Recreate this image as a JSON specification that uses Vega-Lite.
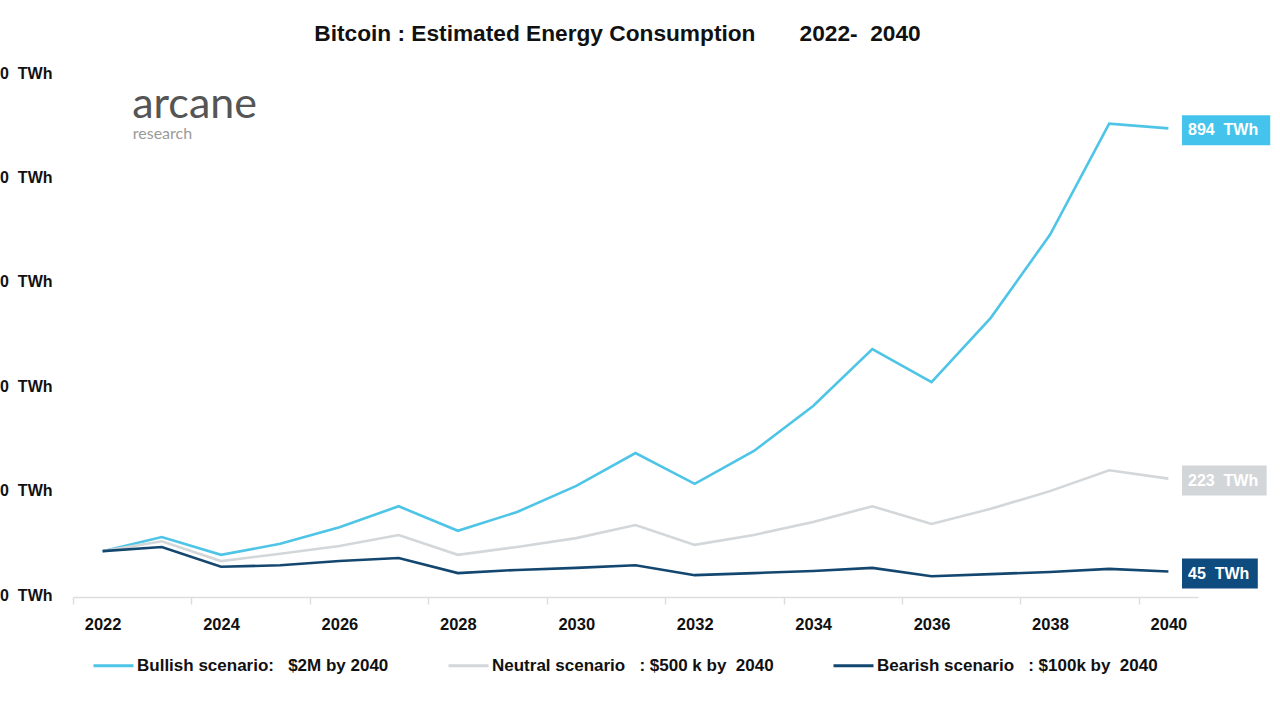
{
  "$schema": "https://vega.github.io/schema/vega-lite/v6.json",
  "width": 1125,
  "height": 522,
  "autosize": {"type": "none"},
  "padding": {"left": 73, "top": 73, "right": 82, "bottom": 125},
  "background": "white",
  "config": {
    "font": "Liberation Sans",
    "view": {"stroke": null}
  },
  "title": {
    "text": "Bitcoin : Estimated Energy Consumption\u00a0\u00a0\u00a0\u00a0\u00a0\u00a0\u00a02022-\u00a0\u00a02040",
    "font": "Liberation Sans",
    "fontSize": 22.7,
    "fontWeight": "bold",
    "color": "#111111",
    "anchor": "middle",
    "frame": "group",
    "dx": -18,
    "offset": 19
  },
  "datasets": {
    "energy": [
      {"year": 2022, "scenario": "Bullish scenario:\u00a0\u00a0 $2M by 2040", "value": 84},
      {"year": 2023, "scenario": "Bullish scenario:\u00a0\u00a0 $2M by 2040", "value": 111},
      {"year": 2024, "scenario": "Bullish scenario:\u00a0\u00a0 $2M by 2040", "value": 77},
      {"year": 2025, "scenario": "Bullish scenario:\u00a0\u00a0 $2M by 2040", "value": 98},
      {"year": 2026, "scenario": "Bullish scenario:\u00a0\u00a0 $2M by 2040", "value": 130},
      {"year": 2027, "scenario": "Bullish scenario:\u00a0\u00a0 $2M by 2040", "value": 170},
      {"year": 2028, "scenario": "Bullish scenario:\u00a0\u00a0 $2M by 2040", "value": 123},
      {"year": 2029, "scenario": "Bullish scenario:\u00a0\u00a0 $2M by 2040", "value": 159},
      {"year": 2030, "scenario": "Bullish scenario:\u00a0\u00a0 $2M by 2040", "value": 209},
      {"year": 2031, "scenario": "Bullish scenario:\u00a0\u00a0 $2M by 2040", "value": 272},
      {"year": 2032, "scenario": "Bullish scenario:\u00a0\u00a0 $2M by 2040", "value": 213},
      {"year": 2033, "scenario": "Bullish scenario:\u00a0\u00a0 $2M by 2040", "value": 276},
      {"year": 2034, "scenario": "Bullish scenario:\u00a0\u00a0 $2M by 2040", "value": 362},
      {"year": 2035, "scenario": "Bullish scenario:\u00a0\u00a0 $2M by 2040", "value": 471},
      {"year": 2036, "scenario": "Bullish scenario:\u00a0\u00a0 $2M by 2040", "value": 408},
      {"year": 2037, "scenario": "Bullish scenario:\u00a0\u00a0 $2M by 2040", "value": 531},
      {"year": 2038, "scenario": "Bullish scenario:\u00a0\u00a0 $2M by 2040", "value": 690},
      {"year": 2039, "scenario": "Bullish scenario:\u00a0\u00a0 $2M by 2040", "value": 903},
      {"year": 2040, "scenario": "Bullish scenario:\u00a0\u00a0 $2M by 2040", "value": 894},
      {"year": 2022, "scenario": "Neutral scenario\u00a0\u00a0 : $500 k by\u00a0 2040", "value": 84},
      {"year": 2023, "scenario": "Neutral scenario\u00a0\u00a0 : $500 k by\u00a0 2040", "value": 103},
      {"year": 2024, "scenario": "Neutral scenario\u00a0\u00a0 : $500 k by\u00a0 2040", "value": 65},
      {"year": 2025, "scenario": "Neutral scenario\u00a0\u00a0 : $500 k by\u00a0 2040", "value": 79},
      {"year": 2026, "scenario": "Neutral scenario\u00a0\u00a0 : $500 k by\u00a0 2040", "value": 94},
      {"year": 2027, "scenario": "Neutral scenario\u00a0\u00a0 : $500 k by\u00a0 2040", "value": 115},
      {"year": 2028, "scenario": "Neutral scenario\u00a0\u00a0 : $500 k by\u00a0 2040", "value": 77},
      {"year": 2029, "scenario": "Neutral scenario\u00a0\u00a0 : $500 k by\u00a0 2040", "value": 92},
      {"year": 2030, "scenario": "Neutral scenario\u00a0\u00a0 : $500 k by\u00a0 2040", "value": 109},
      {"year": 2031, "scenario": "Neutral scenario\u00a0\u00a0 : $500 k by\u00a0 2040", "value": 134},
      {"year": 2032, "scenario": "Neutral scenario\u00a0\u00a0 : $500 k by\u00a0 2040", "value": 96},
      {"year": 2033, "scenario": "Neutral scenario\u00a0\u00a0 : $500 k by\u00a0 2040", "value": 115},
      {"year": 2034, "scenario": "Neutral scenario\u00a0\u00a0 : $500 k by\u00a0 2040", "value": 140},
      {"year": 2035, "scenario": "Neutral scenario\u00a0\u00a0 : $500 k by\u00a0 2040", "value": 170},
      {"year": 2036, "scenario": "Neutral scenario\u00a0\u00a0 : $500 k by\u00a0 2040", "value": 136},
      {"year": 2037, "scenario": "Neutral scenario\u00a0\u00a0 : $500 k by\u00a0 2040", "value": 165},
      {"year": 2038, "scenario": "Neutral scenario\u00a0\u00a0 : $500 k by\u00a0 2040", "value": 199},
      {"year": 2039, "scenario": "Neutral scenario\u00a0\u00a0 : $500 k by\u00a0 2040", "value": 239},
      {"year": 2040, "scenario": "Neutral scenario\u00a0\u00a0 : $500 k by\u00a0 2040", "value": 223},
      {"year": 2022, "scenario": "Bearish scenario\u00a0\u00a0 : $100k by\u00a0 2040", "value": 84},
      {"year": 2023, "scenario": "Bearish scenario\u00a0\u00a0 : $100k by\u00a0 2040", "value": 92},
      {"year": 2024, "scenario": "Bearish scenario\u00a0\u00a0 : $100k by\u00a0 2040", "value": 54},
      {"year": 2025, "scenario": "Bearish scenario\u00a0\u00a0 : $100k by\u00a0 2040", "value": 57},
      {"year": 2026, "scenario": "Bearish scenario\u00a0\u00a0 : $100k by\u00a0 2040", "value": 65},
      {"year": 2027, "scenario": "Bearish scenario\u00a0\u00a0 : $100k by\u00a0 2040", "value": 71},
      {"year": 2028, "scenario": "Bearish scenario\u00a0\u00a0 : $100k by\u00a0 2040", "value": 42},
      {"year": 2029, "scenario": "Bearish scenario\u00a0\u00a0 : $100k by\u00a0 2040", "value": 48},
      {"year": 2030, "scenario": "Bearish scenario\u00a0\u00a0 : $100k by\u00a0 2040", "value": 52},
      {"year": 2031, "scenario": "Bearish scenario\u00a0\u00a0 : $100k by\u00a0 2040", "value": 57},
      {"year": 2032, "scenario": "Bearish scenario\u00a0\u00a0 : $100k by\u00a0 2040", "value": 38},
      {"year": 2033, "scenario": "Bearish scenario\u00a0\u00a0 : $100k by\u00a0 2040", "value": 42},
      {"year": 2034, "scenario": "Bearish scenario\u00a0\u00a0 : $100k by\u00a0 2040", "value": 46},
      {"year": 2035, "scenario": "Bearish scenario\u00a0\u00a0 : $100k by\u00a0 2040", "value": 52},
      {"year": 2036, "scenario": "Bearish scenario\u00a0\u00a0 : $100k by\u00a0 2040", "value": 36},
      {"year": 2037, "scenario": "Bearish scenario\u00a0\u00a0 : $100k by\u00a0 2040", "value": 40},
      {"year": 2038, "scenario": "Bearish scenario\u00a0\u00a0 : $100k by\u00a0 2040", "value": 44},
      {"year": 2039, "scenario": "Bearish scenario\u00a0\u00a0 : $100k by\u00a0 2040", "value": 50},
      {"year": 2040, "scenario": "Bearish scenario\u00a0\u00a0 : $100k by\u00a0 2040", "value": 45}
    ],
    "endlabels": [
      {"key": "bull", "value": 894, "label": "894\u00a0\u00a0TWh"},
      {"key": "neutral", "value": 223, "label": "223\u00a0\u00a0TWh"},
      {"key": "bear", "value": 45, "label": "45\u00a0\u00a0TWh"}
    ]
  },
  "layer": [
    {
      "data": {"name": "energy"},
      "mark": {"type": "line", "strokeWidth": 2.6, "strokeJoin": "miter"},
      "encoding": {
        "x": {
          "field": "year",
          "type": "quantitative",
          "scale": {"domain": [2021.5, 2040.5], "nice": false, "zero": false},
          "axis": {
            "title": null,
            "values": [2022, 2024, 2026, 2028, 2030, 2032, 2034, 2036, 2038, 2040],
            "format": "d",
            "grid": false,
            "domainColor": "#dddddd",
            "domainWidth": 1.5,
            "tickColor": "#dddddd",
            "tickWidth": 1.5,
            "tickSize": 7,
            "tickOffset": -29.6,
            "labelOffset": 29.6,
            "labelFont": "Liberation Sans",
            "labelFontWeight": "bold",
            "labelFontSize": 16.5,
            "labelColor": "#111111",
            "labelPadding": 12,
            "labelFlush": false,
            "offset": 2
          }
        },
        "y": {
          "field": "value",
          "type": "quantitative",
          "scale": {"domain": [0, 1000], "nice": false},
          "axis": {
            "title": null,
            "values": [0, 200, 400, 600, 800, 1000],
            "labelExpr": "datum.value + '\u00a0\u00a0TWh'",
            "grid": false,
            "domain": false,
            "ticks": false,
            "labelFont": "Liberation Sans",
            "labelFontWeight": "bold",
            "labelFontSize": 16,
            "labelColor": "#111111",
            "labelPadding": 21
          }
        },
        "color": {
          "field": "scenario",
          "type": "nominal",
          "scale": {
            "domain": [
              "Bullish scenario:\u00a0\u00a0 $2M by 2040",
              "Neutral scenario\u00a0\u00a0 : $500 k by\u00a0 2040",
              "Bearish scenario\u00a0\u00a0 : $100k by\u00a0 2040"
            ],
            "range": ["#4EC5E6", "#D3D7D9", "#144770"]
          },
          "legend": {
            "title": null,
            "orient": "none",
            "legendX": 19,
            "legendY": 571,
            "direction": "horizontal",
            "symbolType": "stroke",
            "symbolSize": 1600,
            "symbolStrokeWidth": 3,
            "labelFont": "Liberation Sans",
            "labelFontWeight": "bold",
            "labelFontSize": 17,
            "labelColor": "#111111",
            "labelOffset": 2,
            "labelLimit": 400,
            "columnPadding": 53
          }
        }
      }
    },
    {
      "data": {"name": "endlabels"},
      "transform": [{"filter": "datum.key == 'bull'"}],
      "mark": {"type": "rect", "color": "#44C4EC", "yOffset": -13, "y2Offset": 17},
      "encoding": {
        "x": {"datum": 2040.23, "type": "quantitative"},
        "x2": {"datum": 2041.72},
        "y": {"field": "value", "type": "quantitative"},
        "y2": {"field": "value"}
      }
    },
    {
      "data": {"name": "endlabels"},
      "transform": [{"filter": "datum.key == 'neutral'"}],
      "mark": {"type": "rect", "color": "#D3D6D8", "yOffset": -13, "y2Offset": 17},
      "encoding": {
        "x": {"datum": 2040.23, "type": "quantitative"},
        "x2": {"datum": 2041.66},
        "y": {"field": "value", "type": "quantitative"},
        "y2": {"field": "value"}
      }
    },
    {
      "data": {"name": "endlabels"},
      "transform": [{"filter": "datum.key == 'bear'"}],
      "mark": {"type": "rect", "color": "#0E4B7E", "yOffset": -13, "y2Offset": 17},
      "encoding": {
        "x": {"datum": 2040.23, "type": "quantitative"},
        "x2": {"datum": 2041.51},
        "y": {"field": "value", "type": "quantitative"},
        "y2": {"field": "value"}
      }
    },
    {
      "data": {"name": "endlabels"},
      "mark": {
        "type": "text",
        "align": "left",
        "baseline": "middle",
        "dx": 6,
        "dy": 2,
        "font": "Liberation Sans",
        "fontWeight": "bold",
        "fontSize": 16,
        "color": "white"
      },
      "encoding": {
        "x": {"datum": 2040.23, "type": "quantitative"},
        "y": {"field": "value", "type": "quantitative"},
        "text": {"field": "label"}
      }
    },
    {
      "data": {"values": [{}]},
      "mark": {
        "type": "text",
        "text": "arcane",
        "align": "left",
        "baseline": "alphabetic",
        "font": "Lato",
        "fontWeight": 400,
        "fontSize": 43,
        "letterSpacing": 5,
        "color": "#555555"
      },
      "encoding": {
        "x": {"datum": 2022.5, "type": "quantitative"},
        "y": {"datum": 914, "type": "quantitative"}
      }
    },
    {
      "data": {"values": [{}]},
      "mark": {
        "type": "text",
        "text": "research",
        "align": "left",
        "baseline": "alphabetic",
        "font": "Lato",
        "fontSize": 16,
        "letterSpacing": 1.4,
        "color": "#9a9a9a"
      },
      "encoding": {
        "x": {"datum": 2022.51, "type": "quantitative"},
        "y": {"datum": 873, "type": "quantitative"}
      }
    }
  ]
}
